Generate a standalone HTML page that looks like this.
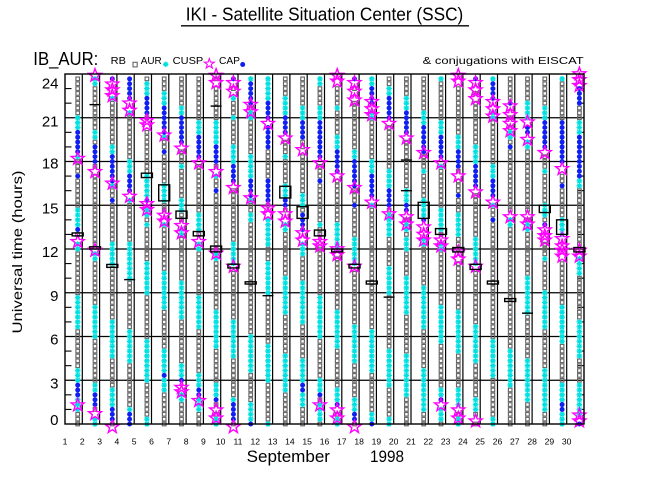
<!DOCTYPE html>
<html>
<head>
<meta charset="utf-8">
<style>
  html,body{margin:0;padding:0;background:#fff;}
  svg{display:block;}
  text{font-family:"Liberation Sans", sans-serif;fill:#000;}
</style>
</head>
<body>
<svg id="chart" width="650" height="500" viewBox="0 0 650 500" xmlns="http://www.w3.org/2000/svg">
  <rect x="0" y="0" width="650" height="500" fill="#fff"/>
  <!-- Title -->
  <text x="185.7" y="20.7" font-size="18" textLength="277.6" lengthAdjust="spacingAndGlyphs">IKI - Satellite Situation Center (SSC)</text>
  <line x1="181" y1="25.8" x2="469" y2="25.8" stroke="#000" stroke-width="1.3"/>
  <!-- Header -->
  <text x="33.3" y="65" font-size="18" textLength="65" lengthAdjust="spacingAndGlyphs">IB_AUR:</text>
  <text x="110.7" y="64" font-size="10" textLength="15.3" lengthAdjust="spacingAndGlyphs">RB</text>
  <rect x="133" y="62.3" width="4.2" height="4.6" fill="none" stroke="#666" stroke-width="1.1"/>
  <text x="140.7" y="64" font-size="10" textLength="21" lengthAdjust="spacingAndGlyphs">AUR</text>
  <path d="M163 64.3h5.4M165.7 61.6v5.4M163.8 62.4l3.8 3.8M163.8 66.2l3.8-3.8" stroke="#00e0e0" stroke-width="1.3" fill="none"/>
  <text x="172.7" y="64" font-size="10" textLength="30.6" lengthAdjust="spacingAndGlyphs">CUSP</text>
  <text x="219" y="64" font-size="10" textLength="21" lengthAdjust="spacingAndGlyphs">CAP</text>
  <circle cx="242.7" cy="64.5" r="2.5" fill="#1020f0"/>
  <text x="422.7" y="64" font-size="10" textLength="161" lengthAdjust="spacingAndGlyphs">&amp; conjugations with EISCAT</text>
  <g id="legstar"></g>

  <!-- Y axis labels -->
  <g font-size="15" text-anchor="end">
    <text x="58.5" y="88.3">24</text>
    <text x="58.5" y="126.3">21</text>
    <text x="58.5" y="168.5">18</text>
    <text x="58.5" y="213.3">15</text>
    <text x="58.5" y="257">12</text>
    <text x="58.5" y="300.8">9</text>
    <text x="58.5" y="344.5">6</text>
    <text x="58.5" y="388.3">3</text>
    <text x="58.5" y="425">0</text>
  </g>
  <text transform="translate(22,252) rotate(-90)" font-size="14" text-anchor="middle" textLength="163" lengthAdjust="spacingAndGlyphs">Universal time (hours)</text>

  <!-- X axis labels -->
  <g font-size="8.6" text-anchor="middle">
    <text x="65" y="444.3">1</text>
    <text x="82.3" y="444.3">2</text>
    <text x="99.6" y="444.3">3</text>
    <text x="116.9" y="444.3">4</text>
    <text x="134.2" y="444.3">5</text>
    <text x="151.5" y="444.3">6</text>
    <text x="168.8" y="444.3">7</text>
    <text x="186.1" y="444.3">8</text>
    <text x="203.4" y="444.3">9</text>
    <text x="220.7" y="444.3">10</text>
    <text x="238" y="444.3">11</text>
    <text x="255.3" y="444.3">12</text>
    <text x="272.6" y="444.3">13</text>
    <text x="289.9" y="444.3">14</text>
    <text x="307.2" y="444.3">15</text>
    <text x="324.5" y="444.3">16</text>
    <text x="341.8" y="444.3">17</text>
    <text x="359.1" y="444.3">18</text>
    <text x="376.4" y="444.3">19</text>
    <text x="393.7" y="444.3">20</text>
    <text x="411" y="444.3">21</text>
    <text x="428.3" y="444.3">22</text>
    <text x="445.6" y="444.3">23</text>
    <text x="462.9" y="444.3">24</text>
    <text x="480.2" y="444.3">25</text>
    <text x="497.5" y="444.3">26</text>
    <text x="514.8" y="444.3">27</text>
    <text x="532.1" y="444.3">28</text>
    <text x="549.4" y="444.3">29</text>
    <text x="566.7" y="444.3">30</text>
  </g>
  <text x="246.7" y="462" font-size="16.3" textLength="83.3" lengthAdjust="spacingAndGlyphs">September</text>
  <text x="370" y="462" font-size="16.3" textLength="34" lengthAdjust="spacingAndGlyphs">1998</text>

  <g id="grid"></g>
  <g id="data"></g>
  <g id="stars"></g>
  <g id="boxes"></g>
  <rect x="65" y="74" width="519" height="350" fill="none" stroke="#000" stroke-width="1.4"/>
</svg>
<script>
(function(){
  var X0=65, DX=17.3, Y0=424, HY=350/24;
  function sy(h){return Y0-h*HY;}
  function sx(d){return X0+DX*(d-1)+12.7;}
  function f(v){return Math.round(v*100)/100;}
  var D={
1:{c:[[20.2,21.1],[18.4,18.5],[13.5,14.8],[11.9,12.4],[6.8,8.8],[2.9,3.8],[0.9,1.6]],b:[[18.7,20.1],[17,17],[13.2,13.4],[2.1,2.8]],s:[18.2,12.5,1.3],r:[[13.1,12.9]]},
2:{c:[[23.5,23.7],[19.6,20.0],[11.5,11.7],[5.9,8.0],[2.3,2.7],[0,0.4]],b:[[18.1,19.1],[1.2,2.1]],s:[23.9,17.3,11.9,0.7],r:[[12.15,12.0]],t:[21.9]},
3:{c:[[22.3,22.3],[18.3,19.1],[16.4,16.4],[10.9,12.2],[4.7,7.1],[1.1,2.2]],b:[[23.67,23.67],[16.8,18.2],[15.4,15.4],[0.3,1.0]],s:[23.3,22.9,22.5,16.5,-0.2],r:[[10.94,10.74]]},
4:{c:[[21.2,21.2],[17.2,18.1],[15.4,15.4],[10.1,12.2],[4.3,6.4],[0.9,1.1]],b:[[22.3,23.67],[16.0,17.0],[0,0.7]],s:[22.0,21.5,15.6],t:[9.9]},
5:{c:[[22.4,23.4],[15.5,16.9],[14.5,14.5],[13.6,13.6],[9.0,10.9],[3.1,5.8],[0,0.2]],b:[[21.2,22.2],[15.4,15.4]],s:[20.8,20.5,15.1,14.7],r:[[17.2,16.9]]},
6:{c:[[21.8,22.8],[19.6,19.6],[15.4,16.3],[13.7,13.7],[8.0,10.3],[3.7,5.1],[2.5,3.1]],b:[[20.1,21.7],[18.7,18.7],[3.3,3.3]],s:[19.8,14.3,13.9],r:[[16.4,15.3]]},
7:{c:[[21.1,21.8],[17.6,17.6],[14.6,15.4],[12.9,13.3],[7.3,9.5],[3.1,4.0],[1.6,2.1]],b:[[19.2,21.0],[3.0,3.0]],s:[18.9,13.6,13.1,2.5,2.2],r:[[14.6,14.1]]},
8:{c:[[20.0,20.7],[13.3,14.4],[12.0,12.4],[6.6,8.8],[2.4,3.3],[1.0,1.5]],b:[[18.3,19.8],[1.9,2.3]],s:[17.9,12.5,1.6],r:[[13.2,12.9]]},
9:{c:[[19.1,20.5],[17.0,17.0],[11.2,11.5],[5.4,7.8],[1.8,2.8],[0,0.2]],b:[[18.1,19.0],[16.0,16.0],[1.6,1.6]],s:[23.9,23.4,17.3,11.7,0.95,0.4],r:[[12.2,11.8]],t:[21.8]},
10:{c:[[22.2,22.3],[20.9,20.9],[17.9,19.1],[11.1,12.4],[4.7,7.1],[1.3,1.8]],b:[[23.67,23.67],[16.6,17.8],[0.3,1.2]],s:[23.4,22.8,16.2,10.8,-0.2],r:[[10.96,10.7]]},
11:{c:[[23.4,23.67],[21.1,21.2],[17.0,18.2],[15.2,15.4],[14.0,14.3],[3.8,6.1],[0.2,1.2]],b:[[22.0,23.2],[15.8,16.8],[0,0.1]],s:[21.9,21.4,15.5],r:[[9.75,9.6]]},
12:{c:[[22.2,23.67],[12.4,14.0],[8.9,11.1],[3.1,5.4],[0,0.1]],b:[[20.9,22.0],[19.1,20.4],[15.4,16.7]],s:[20.6,14.8,14.4],t:[8.8]},
13:{c:[[21.2,22.2],[18.3,18.3],[15.5,16.2],[13.5,13.7],[7.8,10.1],[2.2,4.8]],b:[[19.9,21.0],[14.9,15.4]],s:[19.6,14.4,13.9],r:[[16.3,15.5]]},
14:{c:[[20.9,21.7],[14.9,15.5],[11.6,12.2],[7.1,9.5],[3.0,4.2],[1.5,2.1]],b:[[19.6,20.8],[13.5,14.2],[2.2,2.8]],s:[18.8,13.1,12.6],r:[[14.9,14.1]]},
15:{c:[[23.4,23.67],[20.9,21.5],[13.6,13.6],[6.1,8.5],[2.4,3.1],[0.5,1.2]],b:[[18.3,20.8],[16.6,16.6],[2.0,2.0]],s:[17.9,12.5,12.2,1.3],r:[[13.3,12.9]]},
16:{c:[[21.7,21.7],[18.8,19.7],[12.0,13.5],[5.4,7.8],[1.4,2.4],[0,0.2]],b:[[17.3,18.7],[1.3,1.3]],s:[23.9,23.5,17.0,12.0,11.6,0.95,0.4],r:[[12.0,11.8]]},
17:{c:[[18.2,18.8],[11.1,12.6],[4.4,6.8],[0.9,1.8]],b:[[23.67,23.67],[16.5,18.1],[15.0,15.0],[0.3,0.8]],s:[23.4,22.8,22.2,16.2,10.8,-0.2],r:[[10.95,10.7]]},
18:{c:[[23.1,23.67],[21.0,21.2],[17.0,18.1],[15.0,15.1],[3.8,6.2],[0.2,0.6]],b:[[21.9,23.0],[15.6,17.0],[0,0.1]],s:[22.1,21.6,21.2,15.2],r:[[9.8,9.6]]},
19:{c:[[22.4,23.1],[16.0,17.2],[13.1,14.2],[9.1,10.8],[2.8,5.1],[0,0.2]],b:[[21.0,22.3],[14.9,15.9]],s:[20.6,14.4],t:[8.7]},
20:{c:[[21.4,22.3],[15.0,16.0],[13.4,13.8],[12.0,12.5],[7.7,10.1],[2.1,4.5]],b:[[19.9,21.3],[14.6,14.9]],s:[19.6,14.2,13.7],t:[18.1,16.0]},
21:{c:[[20.3,21.4],[17.3,17.3],[14.1,15.2],[12.4,12.6],[6.8,9.2],[1.1,3.8]],b:[[18.8,20.2],[14.0,14.0]],s:[18.6,13.5,13.0,12.6],r:[[15.2,14.1]]},
22:{c:[[23.67,23.67],[19.8,20.5],[17.6,17.6],[13.5,14.6],[12.0,12.2],[5.6,8.0],[1.9,2.4],[0.4,1.0]],b:[[18.3,19.7],[1.7,1.7]],s:[17.9,12.6,12.2,1.3],r:[[13.4,13.0]]},
23:{c:[[18.9,19.8],[13.0,14.2],[5.1,7.5],[1.4,2.2],[0,0.2]],b:[[17.6,18.8],[15.8,15.8]],s:[23.9,23.5,17.0,11.8,11.3,0.95,0.4],r:[[12.1,11.8]]},
24:{c:[[17.7,18.9],[10.9,12.5],[4.4,6.8],[0.9,1.5]],b:[[23.67,23.67],[16.3,17.6]],s:[23.4,22.9,22.3,15.9,10.8,0.2],r:[[10.95,10.6]]},
25:{c:[[23.5,23.67],[21.0,21.3],[16.7,17.8],[15.0,15.0],[3.4,5.8],[0,0.2]],b:[[22.4,23.4],[15.6,16.6],[14.0,14.0]],s:[22.1,21.6,21.1,15.2],r:[[9.8,9.6]]},
26:{c:[[19.7,19.9],[13.6,14.1],[2.8,4.9]],b:[[22.0,22.0],[18.9,18.9]],s:[21.8,21.2,20.6,20.1,14.2],r:[[8.6,8.4]]},
27:{c:[[21.1,22.1],[19.0,19.3],[13.3,13.5],[7.7,9.9],[1.8,4.2]],b:[[20.0,20.4]],s:[20.7,19.5,14.2,13.7],t:[7.6]},
28:{c:[[20.6,21.5],[17.3,17.3],[14.5,15.1],[11.2,11.3],[6.7,9.1],[1.1,3.5]],b:[[18.9,20.5],[13.8,13.8]],s:[18.6,13.3,12.9,12.6],r:[[15.0,14.5]]},
29:{c:[[23.67,23.67],[13.0,14.0],[5.6,8.0],[1.3,2.8],[0,0.9]],b:[[17.9,20.5],[16.4,16.4],[1.0,1.2]],s:[17.5,12.7,12.2,11.9,11.5],r:[[14.0,13.0]]},
30:{c:[[19.8,20.5],[16.5,16.9],[10.2,11.2],[4.7,7.1],[0.7,2.5]],b:[[22.1,22.9],[17.0,19.7],[0,0]],s:[24.0,23.6,23.2,11.9,11.5,0.6,0.2],r:[[12.1,11.8]]}
  };
  function inSeg(h,segs){
    if(!segs) return false;
    for(var i=0;i<segs.length;i++){
      if(h>=segs[i][0]-0.17 && h<=segs[i][1]+0.17) return true;
    }
    return false;
  }
  function starPath(cx,cy,R,r){
    var p='';
    for(var i=0;i<10;i++){
      var a=-Math.PI/2+i*Math.PI/5;
      var rad=(i%2===0)?R:r;
      p+=(i===0?'M':'L')+f(cx+rad*Math.cos(a))+' '+f(cy+rad*Math.sin(a));
    }
    return p+'Z';
  }
  var g='';
  for(var k=1;k<8;k++){
    var y=f(Y0-k*43.75);
    g+='<line x1="65" y1="'+y+'" x2="584" y2="'+y+'" stroke="#000" stroke-width="1.2"/>';
  }
  for(var k=1;k<30;k++){
    var x=f(X0+DX*k);
    g+='<line x1="'+x+'" y1="74" x2="'+x+'" y2="424" stroke="#000" stroke-width="1.2"/>';
  }
  for(var h=1;h<24;h++){
    if(h%3===0) continue;
    var y=f(sy(h));
    g+='<line x1="65" y1="'+y+'" x2="71.5" y2="'+y+'" stroke="#000" stroke-width="1.1"/>';
    g+='<line x1="577.5" y1="'+y+'" x2="584" y2="'+y+'" stroke="#000" stroke-width="1.1"/>';
  }
  document.getElementById('grid').innerHTML=g;

  var gray='', cyan='', blue='', stars='', boxes='';
  for(var d=1;d<=30;d++){
    var o=D[d], x=sx(d);
    for(var k=0;k<72;k++){
      var h=k/3, y=sy(h);
      var skip=false;
      for(var j=0;j<o.s.length;j++){ if(Math.abs(o.s[j]-h)<0.17){skip=true;break;} }
      if(inSeg(h,o.b)){
        blue+='<circle cx="'+f(x)+'" cy="'+f(y)+'" r="2.5"/>';
      } else if(inSeg(h,o.c)){
        cyan+='M'+f(x-2.8)+' '+f(y)+'h5.6M'+f(x)+' '+f(y-2.8)+'v5.6M'+f(x-2)+' '+f(y-2)+'l4 4M'+f(x-2)+' '+f(y+2)+'l4 -4';
      } else if(!skip){
        gray+='<rect x="'+f(x-1.8)+'" y="'+f(y-1.8)+'" width="3.6" height="3.6"/>';
      }
    }
    for(var j=0;j<o.s.length;j++){
      stars+='<path d="'+starPath(x,sy(o.s[j]),6.8,2.8)+'"/>';
    }
    if(o.r){
      for(var j=0;j<o.r.length;j++){
        var y1=sy(o.r[j][0]), y2=sy(o.r[j][1]);
        var hh=Math.max(2.2,y2-y1);
        boxes+='<rect x="'+f(x-5.5)+'" y="'+f(y1)+'" width="11" height="'+f(hh)+'"/>';
      }
    }
    if(o.t){
      for(var j=0;j<o.t.length;j++){
        var yy=f(sy(o.t[j]));
        boxes+='<line x1="'+f(x-5.5)+'" y1="'+yy+'" x2="'+f(x+5.5)+'" y2="'+yy+'"/>';
      }
    }
  }
  document.getElementById('data').innerHTML=
    '<g fill="none" stroke="#666" stroke-width="1.15">'+gray+'</g>'+
    '<path d="'+cyan+'" fill="none" stroke="#00e0e0" stroke-width="1.3"/>'+
    '<g fill="#1020f0">'+blue+'</g>';
  document.getElementById('stars').innerHTML='<g fill="none" stroke="#ff00ff" stroke-width="1.4" stroke-linejoin="miter">'+stars+'</g>';
  document.getElementById('boxes').innerHTML='<g fill="none" stroke="#000" stroke-width="1.4">'+boxes+'</g>';
  document.getElementById('legstar').innerHTML='<path d="'+starPath(209.3,63.8,5.2,2.1)+'" fill="none" stroke="#ff00ff" stroke-width="1.1"/>';
})();
</script>
</body>
</html>
